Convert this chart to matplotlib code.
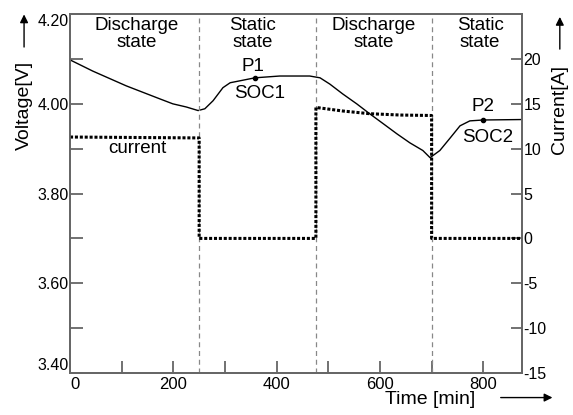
import matplotlib
matplotlib.use("Agg")
import matplotlib.pyplot as plt
from matplotlib.patches import FancyArrowPatch

plt.rcParams['font.family'] = ['Liberation Sans', 'DejaVu Sans']
plt.rcParams['axes.unicode_minus'] = False

# voltage curve (min, V)
time_v = [0, 44, 109, 174, 199, 225, 248, 261, 277, 296, 310, 358, 406, 464,
          484, 503, 528, 555, 580, 606, 633, 658, 683, 697, 716, 736, 755,
          774, 800, 875]
volt = [4.098, 4.073, 4.040, 4.011, 4.000, 3.993, 3.985, 3.989, 4.007, 4.036,
        4.047, 4.058, 4.062, 4.062, 4.058, 4.044, 4.022, 4.000, 3.978, 3.956,
        3.933, 3.913, 3.896, 3.880, 3.896, 3.924, 3.951, 3.962, 3.964, 3.965]

# current profile (min, A)
time_i = [0, 250, 250, 476, 476, 528, 580, 640, 700, 700, 875]
curr = [11.3, 11.2, 0, 0, 14.6, 14.2, 13.9, 13.75, 13.7, 0, 0]

# state boundaries and labels
bounds = [250, 476, 700]
state_x = [129, 354, 588, 794]
state_names = ["Discharge\nstate", "Static\nstate", "Discharge\nstate", "Static\nstate"]

# marked points
p_time = [358, 800]
p_volt = [4.058, 3.964]
p_names = ["P1", "P2"]
soc_names = ["SOC1", "SOC2"]

v_ticks = [3.40, 3.60, 3.80, 4.00, 4.20]
v_labels = ["3.40", "3.60", "3.80", "4.00", "4.20"]
t_ticks = [0, 200, 400, 600, 800]
i_ticks = [-15, -10, -5, 0, 5, 10, 15, 20]

spine_col = "#666666"

fig = plt.figure(figsize=(5.73, 4.15), dpi=100)
ax = fig.add_axes([0.1222, 0.1012, 0.7888, 0.8648])
ax2 = ax.twinx()

ax.plot(time_v, volt, color="black", lw=1.0)
ax.plot(p_time, p_volt, "o", color="black", ms=3)
ax2.plot(time_i, curr, color="black", lw=2.2, ls=(0, (1, 0.6)))

for b in bounds:
    ax.axvline(b, color="#888888", lw=0.9, ls=(0, (4, 3)))

for x, s in zip(state_x, state_names):
    ax.text(x, 0.992, s, transform=ax.get_xaxis_transform(), ha="center",
            va="top", fontsize=13.5, linespacing=1.0)

ax.text(354, 4.084, p_names[0], ha="center", va="center", fontsize=13.5)
ax.text(367, 4.024, soc_names[0], ha="center", va="center", fontsize=13.5)
ax.text(800, 3.993, p_names[1], ha="center", va="center", fontsize=13.5)
ax.text(808, 3.924, soc_names[1], ha="center", va="center", fontsize=13.5)
ax.text(131, 3.900, "current", ha="center", va="center", fontsize=13.5)

ax.set_xlim(0, 875)
ax.set_ylim(3.40, 4.20)
ax2.set_ylim(-15, 25)

ax.set_xticks(t_ticks, [str(t) for t in t_ticks])
ax.set_xticks([100, 300, 500, 700], minor=True)
ax.set_yticks(v_ticks, v_labels)
ax.set_yticks([3.5, 3.7, 3.9, 4.1], minor=True)
ax2.set_yticks(i_ticks, [str(i) for i in i_ticks])

ylabs = ax.get_yticklabels()
ylabs[0].set_va("bottom")
ylabs[-1].set_va("top")
ax.get_xticklabels()[0].set_ha("left")

ax.tick_params(axis="both", which="both", direction="in", color=spine_col,
               width=1.3, top=False, right=False)
ax.tick_params(axis="x", which="both", length=9, pad=3, labelsize=12)
ax.tick_params(axis="y", which="both", length=9, pad=1, labelsize=11.5)
ax2.tick_params(axis="y", direction="in", color=spine_col, width=1.3,
                length=8, pad=1, labelsize=11.5)

for a in (ax, ax2):
    for sp in a.spines.values():
        sp.set_color(spine_col)
        sp.set_linewidth(1.3)

# axis titles with arrows
fig.text(0.042, 0.745, "Voltage[V]", rotation=90, ha="center", va="center", fontsize=14)
fig.text(0.977, 0.735, "Current[A]", rotation=90, ha="center", va="center", fontsize=14)
fig.text(0.75, 0.038, "Time [min]", ha="center", va="center", fontsize=14)
arrow = dict(arrowstyle="-|>", color="black", lw=1.0, mutation_scale=12)
fig.add_artist(FancyArrowPatch((0.042, 0.88), (0.042, 0.972),
                               transform=fig.transFigure, **arrow))
fig.add_artist(FancyArrowPatch((0.977, 0.875), (0.977, 0.966),
                               transform=fig.transFigure, **arrow))
fig.add_artist(FancyArrowPatch((0.869, 0.042), (0.969, 0.042),
                               transform=fig.transFigure, **arrow))

fig.savefig("out.png", dpi=100)
